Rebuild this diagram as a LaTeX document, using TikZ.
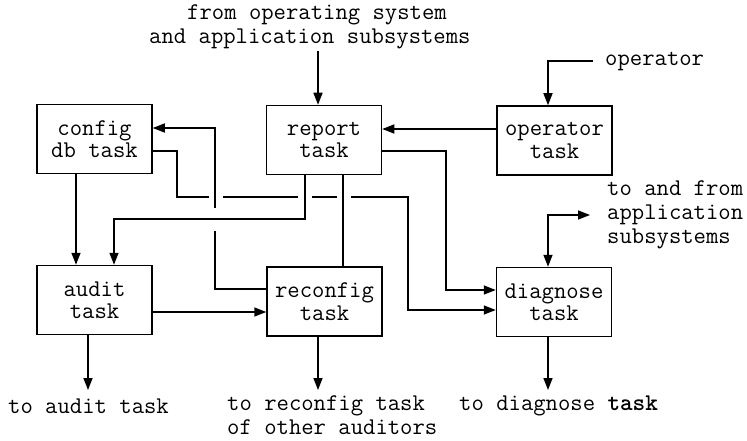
\documentclass[tikz,border=0pt]{standalone}
\usepackage{fontspec}
\usetikzlibrary{arrows.meta}
\begin{document}
\begin{tikzpicture}[x=1pt,y=-1pt,
  every node/.style={font=\ttfamily\fontsize{24pt}{22pt}\selectfont},
  taskbox/.style={draw, line width=1.5pt, minimum width=115pt, minimum height=69pt, align=center, inner sep=0pt, font=\ttfamily\fontsize{24pt}{22.5pt}\selectfont},
  lbl/.style={inner sep=0pt},
  conn/.style={line width=1.5pt},
  arr/.style={conn, -{Triangle[length=12pt,width=9pt]}},
  dblarr/.style={conn, {Triangle[length=12pt,width=9pt]}-{Triangle[length=12pt,width=9pt]}},
  gap/.style={fill=white, draw=none}
]
\useasboundingbox (0,0) rectangle (747,441);

% boxes
\node[taskbox] (cfg) at (94.5,139) {config\\db task};
\node[taskbox] (rep) at (324,140) {report\\task};
\node[taskbox] (opr) at (554.5,140.5) {operator\\task};
\node[taskbox] (aud) at (94.5,300) {audit\\task};
\node[taskbox] (rec) at (324.5,301.5) {reconfig\\task};
\node[taskbox] (dia) at (554,302) {diagnose\\task};

% labels
\node[lbl, anchor=north west, align=left, font=\ttfamily\fontsize{24pt}{24pt}\selectfont] (top) at (149,4) {\hspace*{38pt}from operating system\\and application subsystems};
\node[lbl, anchor=west] (oplab) at (605,62) {operator};
\node[lbl, anchor=north west, align=left, font=\ttfamily\fontsize{24pt}{24pt}\selectfont] (app) at (607,180) {to and from\\application\\subsystems};
\node[lbl] (audlab) at (88.5,406) {to audit task};
\node[lbl, anchor=north west, align=left, font=\ttfamily\fontsize{24pt}{24.5pt}\selectfont] (reclab) at (227,395) {to reconfig task\\of other auditors};
\node[lbl, anchor=west] (dialab) at (459,406) {to diagnose {\bfseries task}};

% free ends
\coordinate (topin) at (318,51);
\coordinate (opin) at (593,61);
\coordinate (append) at (590,215);
\coordinate (audout) at (88,390);
\coordinate (recout) at (318,390);
\coordinate (diaout) at (548,390);

% inputs from outside
\draw[arr] (topin) -- (topin |- rep.north);
\draw[arr] (opin) -| (548,0 |- opr.north);
\draw[dblarr] (append) -| (548,0 |- dia.north);

% operator -> report
\draw[arr] (opr.west |- 0,129) -- (rep.east |- 0,129);

% config db -> diagnose (drawn first, gets gaps)
\draw[arr] (cfg.east |- 0,151) -| (177,197) -| (408,310) -- (dia.west |- 0,310);
\fill[gap] (209,193) rectangle (223,201);
\fill[gap] (298,193) rectangle (312,201);
\fill[gap] (337,193) rectangle (351,201);

% reconfig -> config db
\draw[arr] (rec.west |- 0,289) -| (215,128) -- (cfg.east |- 0,128);
\fill[gap] (211,208) rectangle (219,231);

% report -> audit
\draw[arr] (305,0 |- rep.south) |- (114,219) -- (114,0 |- aud.north);
% report -- reconfig
\draw[conn] (343,0 |- rep.south) -- (343,0 |- rec.north);
% report -> diagnose
\draw[arr] (rep.east |- 0,151) -| (446,290) -- (dia.west |- 0,290);

% config db -> audit
\draw[arr] (76,0 |- cfg.south) -- (76,0 |- aud.north);
% audit -> reconfig
\draw[arr] (aud.east |- 0,312) -- (rec.west |- 0,312);

% outputs
\draw[arr] (88,0 |- aud.south) -- (audout);
\draw[arr] (318,0 |- rec.south) -- (recout);
\draw[arr] (548,0 |- dia.south) -- (diaout);
\end{tikzpicture}
\end{document}
